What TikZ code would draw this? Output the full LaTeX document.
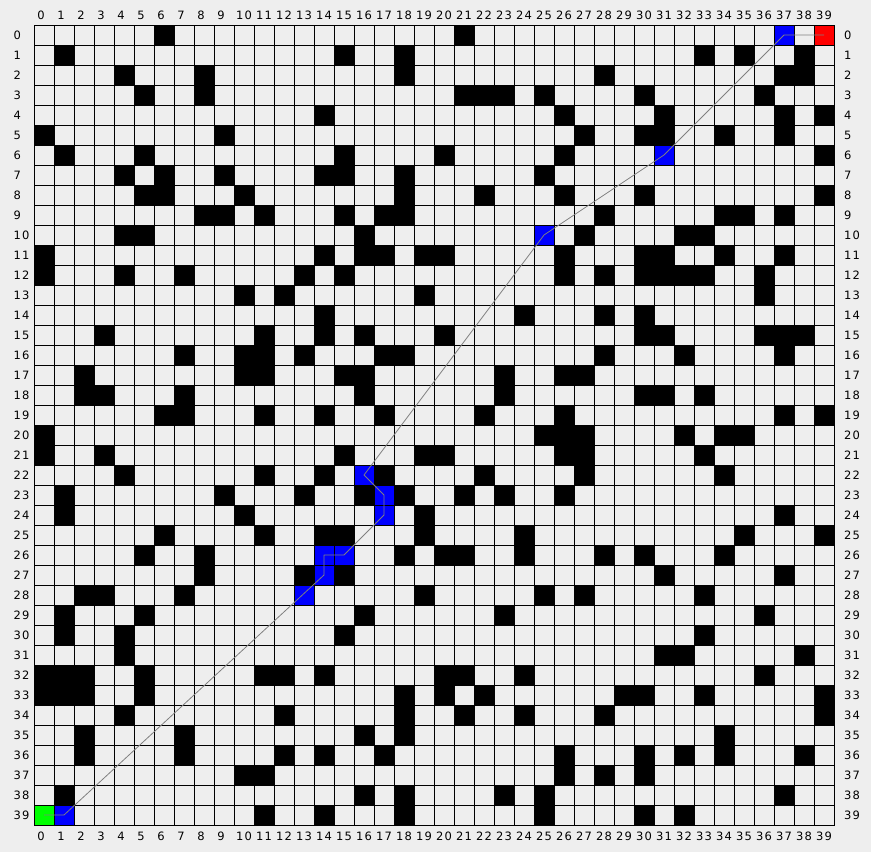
\documentclass[tikz,border=0pt]{standalone}
\usepackage{fontspec}
\setmainfont{DejaVu Sans}
\usepackage{xcolor}

\definecolor{panel}{HTML}{EEEEEE}
\definecolor{routegray}{HTML}{808080}

\begin{document}
\begin{tikzpicture}[
  x=1pt, y=-1pt,
  font=\fontsize{11.5}{13}\selectfont,
  gridln/.style={draw=black, line width=1pt, line cap=rect},
  wall/.style={fill=black},
  visit/.style={fill=blue, minimum size=20pt, inner sep=0pt, outer sep=0pt},
  startcell/.style={visit, fill=green},
  goalcell/.style={visit, fill=red},
  lbl/.style={inner sep=0pt, outer sep=0pt, anchor=base},
  routeln/.style={draw=routegray, line width=0.8pt, line join=round},
]

% ============ PANEL ============
\fill[panel] (0,0) rectangle (871,852);
\useasboundingbox (0,0) rectangle (871,852);

% ============ OBSTACLES ============
\foreach \r/\cols in {
   0/{6,21},
   1/{1,15,18,33,35,38},
   2/{4,8,18,28,37,38},
   3/{5,8,21,22,23,25,30,36},
   4/{14,26,31,37,39},
   5/{0,9,27,30,31,34,37},
   6/{1,5,15,20,26,39},
   7/{4,6,9,14,15,18,25},
   8/{5,6,10,18,22,26,30,39},
   9/{8,9,11,15,17,18,28,34,35,37},
  10/{4,5,16,27,32,33},
  11/{0,14,16,17,19,20,26,30,31,34,37},
  12/{0,4,7,13,15,26,28,30,31,32,33,36},
  13/{10,12,19,36},
  14/{14,24,28,30},
  15/{3,11,14,16,20,30,31,36,37,38},
  16/{7,10,11,13,17,18,28,32,37},
  17/{2,10,11,15,16,23,26,27},
  18/{2,3,7,16,23,30,31,33},
  19/{6,7,11,14,17,22,26,37,39},
  20/{0,25,26,27,32,34,35},
  21/{0,3,15,19,20,26,27,33},
  22/{4,11,14,17,22,27,34},
  23/{1,9,13,16,18,21,23,26},
  24/{1,10,19,37},
  25/{6,11,14,15,19,24,35,39},
  26/{5,8,18,20,21,24,28,30,34},
  27/{8,13,15,31,37},
  28/{2,3,7,19,25,27,33},
  29/{1,5,16,23,36},
  30/{1,4,15,33},
  31/{4,31,32,38},
  32/{0,1,2,5,11,12,14,20,21,24,36},
  33/{0,1,2,5,18,20,22,29,30,33,39},
  34/{4,12,18,21,24,28,39},
  35/{2,7,16,18,34},
  36/{2,7,12,14,17,26,30,32,34,38},
  37/{10,11,26,28,30},
  38/{1,16,18,23,25,37},
  39/{11,14,18,25,30,32}}
  \foreach \c in \cols
    \fill[wall] (34+20*\c, 25+20*\r) rectangle ++(20,20);

% ============ START / GOAL / VISITED ============
\node[startcell] (start)   at (44,815) {};
\node[goalcell]  (goal)    at (824,35) {};
\node[visit]     (b-1-39)  at (64,815) {};
\node[visit]     (b-13-28) at (304,595) {};
\node[visit]     (b-14-27) at (324,575) {};
\node[visit]     (b-14-26) at (324,555) {};
\node[visit]     (b-15-26) at (344,555) {};
\node[visit]     (b-17-24) at (384,515) {};
\node[visit]     (b-17-23) at (384,495) {};
\node[visit]     (b-16-22) at (364,475) {};
\node[visit]     (b-25-10) at (544,235) {};
\node[visit]     (b-31-6)  at (664,155) {};
\node[visit]     (b-37-0)  at (784,35) {};

% ============ GRID ============
\foreach \k in {0,...,40} {
  \draw[gridln] (34+20*\k, 25) -- (34+20*\k, 825);
  \draw[gridln] (34, 25+20*\k) -- (834, 25+20*\k);
}

% ============ ROUTE ============
\draw[routeln] (start.center) -- (b-1-39.center) -- (b-14-27.center)
  -- (b-14-26.center) -- (b-15-26.center) -- (b-17-24.center)
  -- (b-17-23.center) -- (b-16-22.center) -- (b-25-10.center)
  -- (b-31-6.center) -- (b-37-0.center) -- (goal.center);

% ============ AXIS LABELS ============
\foreach \i in {0,...,39} {
  \ifnum\i<10
    \def\num{\i}\def\dx{7}
  \else
    \pgfmathtruncatemacro\tens{\i/10}
    \pgfmathtruncatemacro\ones{\i-10*\tens}
    \edef\num{\tens\noexpand\kern1.2pt\ones}\def\dx{10}
  \fi
  \node[lbl] (top-\i) at ({34+20*\i+\dx}, 19.3) {\num};
  \node[lbl] (bot-\i) at ({34+20*\i+\dx}, 840) {\num};
  \node[lbl, anchor=base west] (lft-\i) at (13.5, {39.3+20*\i}) {\num};
  \node[lbl, anchor=base west] (rgt-\i) at (844, {39.3+20*\i}) {\num};
}

\end{tikzpicture}
\end{document}
